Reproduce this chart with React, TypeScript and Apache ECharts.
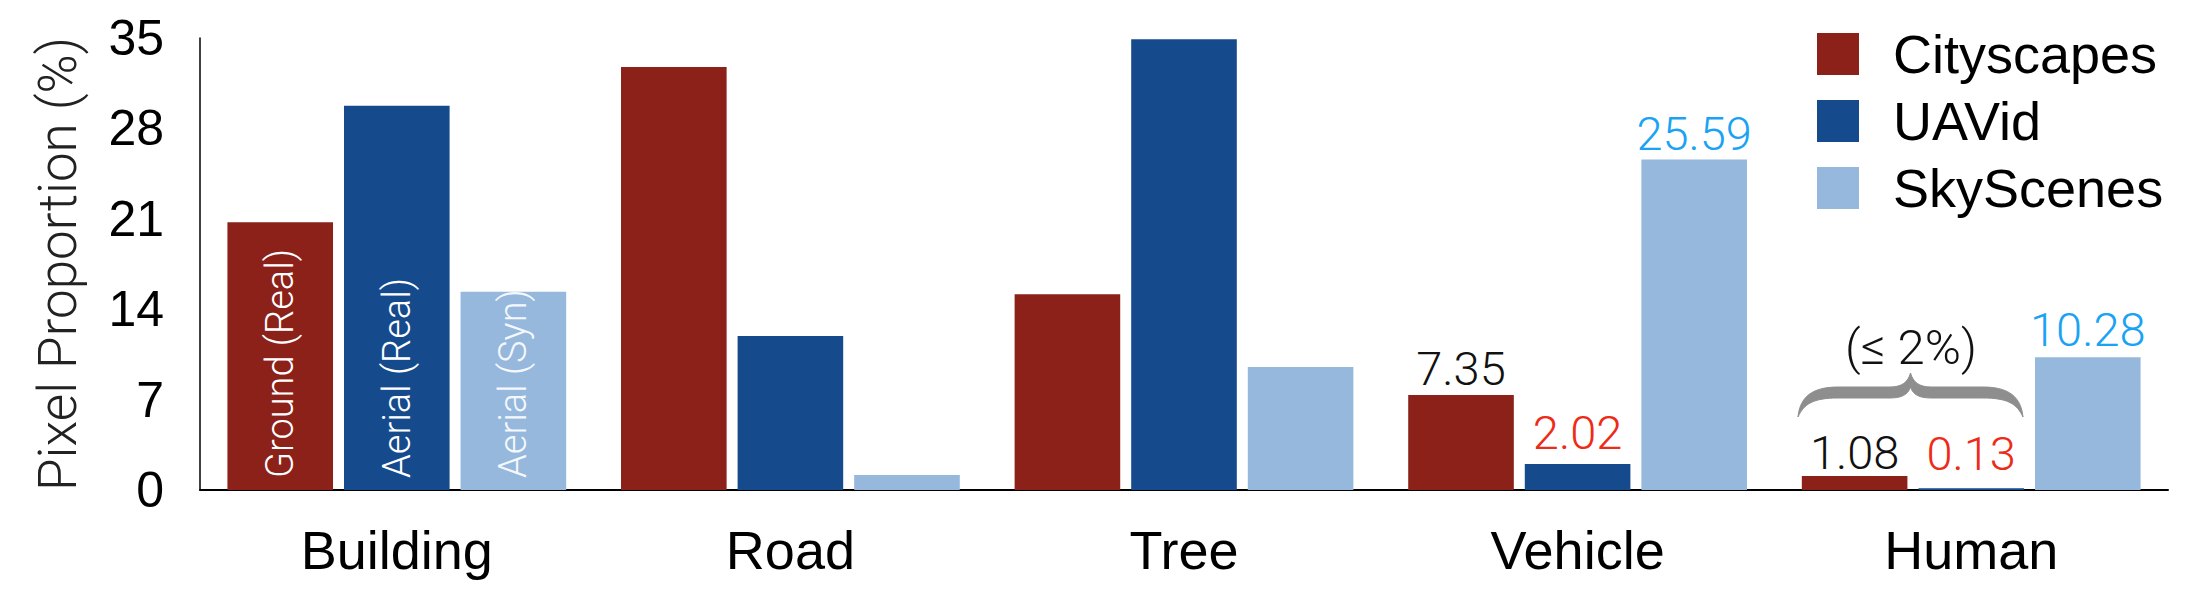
import React, { useEffect, useRef } from "react";
import * as echarts from "echarts";

const categories = ["Building", "Road", "Tree", "Vehicle", "Human"];
const seriesNames = ["Cityscapes", "UAVid", "SkyScenes"];
const cityscapes = [20.74, 32.76, 15.15, 7.35, 1.08];
const uavid = [29.75, 11.92, 34.9, 2.02, 0.13];
const skyscenes = [15.35, 1.16, 9.52, 25.59, 10.28];
const yTicks = [0, 7, 14, 21, 28, 35];
const insideLabels = ["Ground (Real)", "Aerial (Real)", "Aerial (Syn)"];
const annotatedCategories = ["Vehicle", "Human"];
const braceText = "(≤ 2%)";

const barColors = ["#8B2119", "#154A8D", "#95B8DC"];
const valueLabelColors = ["#111111", "#EE2B17", "#1AA2F4"];
const REG = "'Liberation Sans', Arial, Helvetica, sans-serif";
const LIGHT = "Roboto, 'Liberation Sans', Arial, sans-serif";

// distance of value label above bar, per series, per annotated category
const labelDistances = [
  [3, 0],
  [8, 11],
  [3, 4],
];

echarts.graphic.registerShape(
  "brace",
  echarts.graphic.extendPath(
    "M0,44 C2,24 14,14 40,14 L92,14 C104,14 110,9 112.5,0 C115,9 121,14 133,14 L185,14 C211,14 223,24 225,44 C219,31 210,25 185,25 L133,25 C122,25 115,22 112.5,14 C110,22 103,25 92,25 L40,25 C15,25 6,31 0,44 Z",
    {}
  )
);

function buildData(values: number[], s: number) {
  return values.map((v, i) => {
    const cat = categories[i];
    if (i === 0) {
      return {
        value: v,
        label: {
          show: true,
          position: "insideBottom",
          rotate: 90,
          align: "left",
          verticalAlign: "middle",
          distance: 12,
          formatter: insideLabels[s],
          color: s === 2 ? "#F4F7FB" : "#FFFFFF",
          fontSize: 38,
          fontWeight: 300,
          fontFamily: LIGHT,
        },
      };
    }
    const ai = annotatedCategories.indexOf(cat);
    if (ai >= 0) {
      return {
        value: v,
        label: {
          show: true,
          position: "top",
          distance: labelDistances[s][ai],
          formatter: v.toFixed(2),
          color: valueLabelColors[s],
          fontSize: 47,
          fontWeight: 300,
          fontFamily: LIGHT,
        },
      };
    }
    return v;
  });
}

export default function App() {
  const ref = useRef<HTMLDivElement>(null);
  useEffect(() => {
    document.body.style.margin = "0";
    const chart = echarts.init(ref.current!, null, { renderer: "svg" });
    const allSeries = [cityscapes, uavid, skyscenes];
    chart.setOption({
      animation: false,
      backgroundColor: "#ffffff",
      grid: { left: 200, right: 32, top: 38, bottom: 110, containLabel: false },
      legend: {
        orient: "vertical",
        left: 1817,
        top: 27,
        padding: 0,
        itemWidth: 42,
        itemHeight: 42,
        itemGap: 13,
        icon: "rect",
        data: seriesNames,
        textStyle: {
          fontSize: 54,
          fontFamily: REG,
          color: "#000",
          padding: [0, 0, 0, 29],
        },
      },
      xAxis: {
        type: "category",
        data: categories,
        axisTick: { show: false },
        axisLine: { show: true, lineStyle: { color: "#000", width: 2 } },
        axisLabel: { fontSize: 54, color: "#000", margin: 33, fontFamily: REG },
      },
      yAxis: {
        type: "value",
        min: yTicks[0],
        max: yTicks[yTicks.length - 1],
        interval: yTicks[1] - yTicks[0],
        name: "Pixel Proportion (%)",
        nameLocation: "middle",
        nameGap: 116,
        nameTextStyle: { fontSize: 53, fontWeight: 300, fontFamily: LIGHT, color: "#222" },
        axisLine: { show: true, lineStyle: { color: "#000", width: 1.5 } },
        axisTick: { show: false },
        splitLine: { show: false },
        axisLabel: { fontSize: 50, color: "#000", margin: 36, fontFamily: REG },
      },
      series: allSeries.map((vals, s) => ({
        name: seriesNames[s],
        type: "bar",
        barWidth: 105.6,
        barGap: "10.4%",
        itemStyle: { color: barColors[s] },
        data: buildData(vals, s),
      })),
      graphic: [
        {
          type: "brace",
          x: 1798,
          y: 373,
          style: { fill: "#8E8E8E", stroke: "#8E8E8E", lineWidth: 1 },
          silent: true,
        },
        {
          type: "text",
          x: 1911,
          y: 372,
          style: {
            text: braceText,
            fontSize: 49,
            fontWeight: 300,
            fontFamily: LIGHT,
            fill: "#111",
            textAlign: "center",
            textVerticalAlign: "bottom",
          },
          silent: true,
        },
      ],
    });
    return () => chart.dispose();
  }, []);
  return <div ref={ref} style={{ width: 2200, height: 600 }} />;
}
